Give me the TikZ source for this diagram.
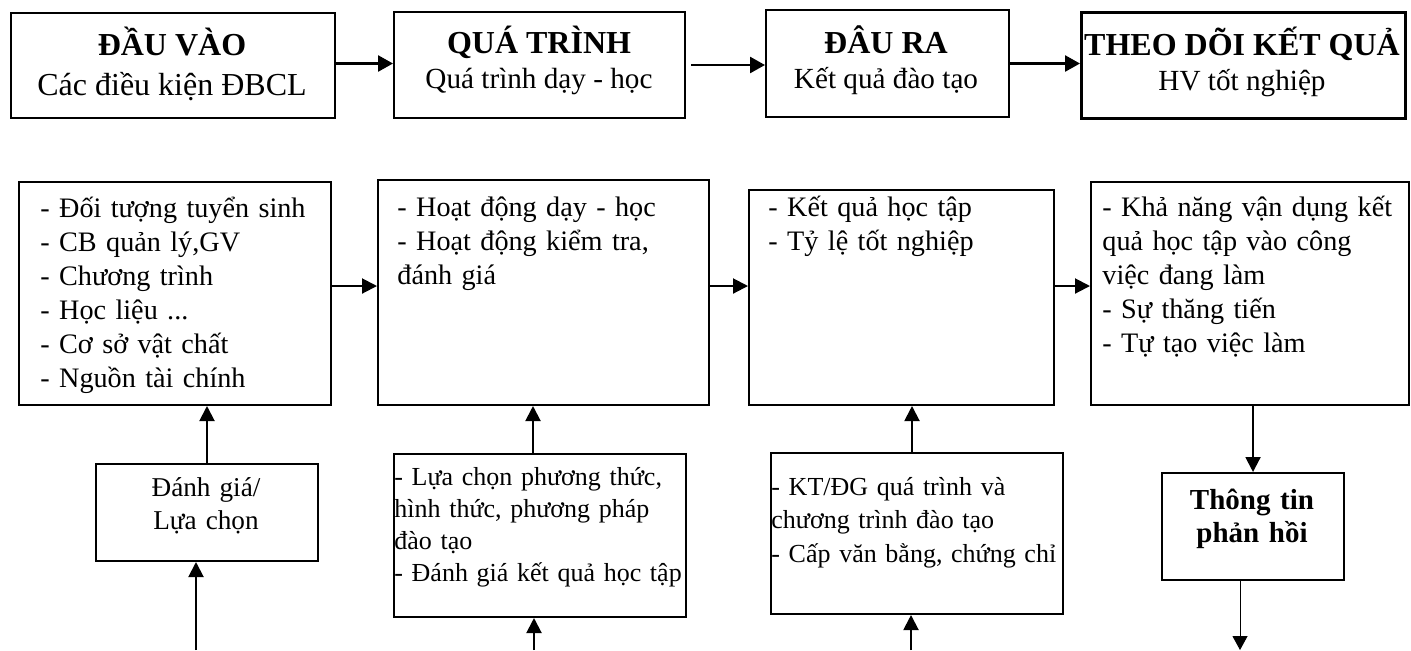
\documentclass[tikz,border=0pt]{standalone}
\usepackage{fontspec}
\setmainfont{Liberation Serif}
\usetikzlibrary{arrows.meta}
\begin{document}
\tikzset{
  box/.style={draw, line width=1pt, rectangle, inner sep=0pt, anchor=north west},
  arr/.style={line width=1pt, -{Triangle[length=7.5pt,width=7.5pt]}},
  toparr/.style={line width=1.3pt, -{Triangle[length=7.5pt,width=8pt]}},
  thinarr/.style={line width=0.5pt, -{Triangle[length=7pt,width=7.5pt]}},
  ttl/.style={inner sep=0pt, anchor=base, font=\fontsize{16}{19}\selectfont\bfseries},
  sub/.style={inner sep=0pt, anchor=base, font=\fontsize{14.6}{18}\selectfont},
  mid/.style={inner sep=0pt, anchor=base west, text width=170pt, align=left, font=\fontsize{14.1}{17}\selectfont},
  low/.style={inner sep=0pt, anchor=base west, text width=150pt, align=left, font=\fontsize{13}{16.1}\selectfont},
}
\begin{tikzpicture}[x=0.5pt,y=-0.5pt]
\useasboundingbox (0,0) rectangle (1411,650);
% top row
\node[box, minimum width=162pt, minimum height=52.5pt] (T1) at (10,12) {};
\node[box, minimum width=145.5pt, minimum height=53pt] (T2) at (393,11) {};
\node[box, minimum width=121.5pt, minimum height=53.5pt] (T3) at (765,9) {};
\node[box, line width=1.5pt, minimum width=162pt, minimum height=53pt] (T4) at (1080,11) {};
\node[ttl] (t1a) at (172,55) {ĐẦU VÀO};
\node[sub, font=\fontsize{16}{19}\selectfont] (t1b) at (172,95) {Các điều kiện ĐBCL};
\node[ttl] (t2a) at (539,53) {QUÁ TRÌNH};
\node[sub] (t2b) at (539,88) {Quá trình dạy - học};
\node[ttl] (t3a) at (886,53) {ĐÂU RA};
\node[sub] (t3b) at (886,88) {Kết quả đào tạo};
\node[ttl] (t4a) at (1242,55) {THEO DÕI KẾT QUẢ};
\node[sub] (t4b) at (1242,90) {HV tốt nghiệp};
\draw[toparr] ([yshift=1pt]T1.east) -- ([yshift=1pt]T1.east -| T2.west);
\draw[toparr] ([xshift=2.5pt]T2.east) -- (T2.east -| T3.west);
\draw[toparr] (T3.east) -- (T3.east -| T4.west);
% middle row
\node[box, minimum width=156pt, minimum height=111.5pt] (A) at (18,181) {};
\node[box, minimum width=165.5pt, minimum height=112.5pt] (B) at (377,179) {};
\node[box, minimum width=152.5pt, minimum height=107.5pt] (C) at (748,189) {};
\node[box, minimum width=159pt, minimum height=111.5pt] (D) at (1090,181) {};
\node[mid] (ta) at (40,217) {- Đối tượng tuyển sinh\\- CB quản lý,GV\\- Chương trình\\- Học liệu ...\\- Cơ sở vật chất\\- Nguồn tài chính};
\node[mid] (tb) at (397,216) {- Hoạt động dạy - học\\- Hoạt động kiểm tra,\\đánh giá};
\node[mid] (tc) at (768,216) {- Kết quả học tập\\- Tỷ lệ tốt nghiệp};
\node[mid] (td) at (1102,216) {- Khả năng vận dụng kết\\quả học tập vào công\\việc đang làm\\- Sự thăng tiến\\- Tự tạo việc làm};
\draw[arr] ([yshift=3.75pt]A.east) -- ([yshift=3.75pt]A.east -| B.west);
\draw[arr] ([yshift=3.25pt]B.east) -- ([yshift=3.25pt]B.east -| C.west);
\draw[arr] ([yshift=5.75pt]C.east) -- ([yshift=5.75pt]C.east -| D.west);
% bottom row
\node[box, minimum width=111pt, minimum height=48.5pt] (E) at (95,463) {};
\node[box, minimum width=146pt, minimum height=81.5pt] (F) at (393,453) {};
\node[box, minimum width=146pt, minimum height=80.5pt] (G) at (770,452) {};
\node[box, minimum width=91pt, minimum height=53.5pt] (H) at (1161,472) {};
\node[inner sep=0pt, anchor=base, text width=100pt, align=center, font=\fontsize{13.6}{16.5}\selectfont] (te) at (206,496) {Đánh giá/\\Lựa chọn};
\node[low] (tf) at (394,485) {- Lựa chọn phương thức,\\hình thức, phương pháp\\đào tạo\\- Đánh giá kết quả học tập};
\node[low, font=\fontsize{13}{16.9}\selectfont] (tg) at (771,495) {- KT/ĐG quá trình và\\chương trình đào tạo\\- Cấp văn bằng, chứng chỉ};
\node[inner sep=0pt, anchor=base, text width=85pt, align=center, font=\fontsize{14.5}{16.5}\selectfont\bfseries] (th) at (1252,509) {Thông tin\\phản hồi};
\coordinate (e0) at (196,650);
\coordinate (f0) at (534,650);
\coordinate (g0) at (911,650);
\coordinate (h0) at (1240,650);
\draw[arr] (E.north) -- (E.north |- A.south);
\draw[arr] (e0) -- (e0 |- E.south);
\draw[arr] ([xshift=-3.5pt]F.north) -- ([xshift=-3.5pt]F.north |- B.south);
\draw[arr] (f0) -- (f0 |- F.south);
\draw[arr] ([xshift=-2.5pt]G.north) -- ([xshift=-2.5pt]G.north |- C.south);
\draw[arr] (g0) -- (g0 |- G.south);
\draw[arr] (H.north |- D.south) -- (H.north);
\draw[thinarr] (h0 |- H.south) -- (h0);
\end{tikzpicture}
\end{document}
